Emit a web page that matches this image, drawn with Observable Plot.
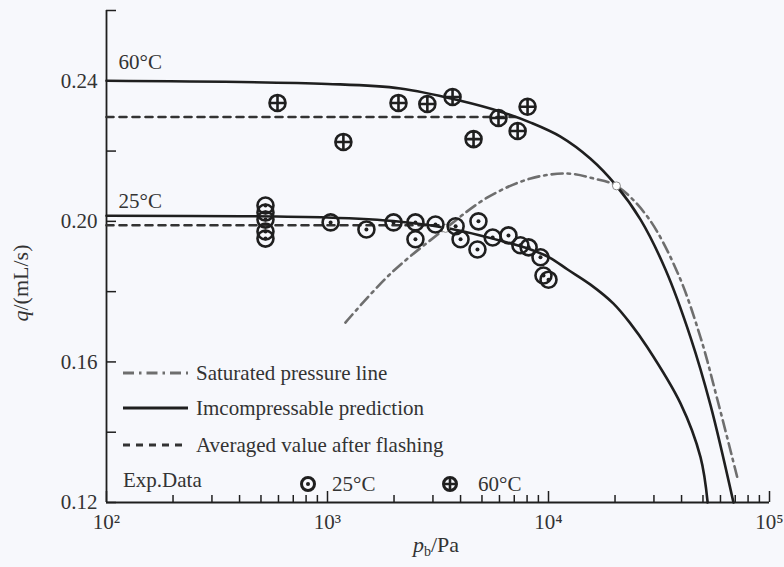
<!DOCTYPE html>
<html><head><meta charset="utf-8">
<script src="https://cdn.jsdelivr.net/npm/d3@7"></script>
<script src="https://cdn.jsdelivr.net/npm/@observablehq/plot@0.6"></script>
<style>
html,body{margin:0;padding:0;background:#f7f8fc;}
#wrap{position:relative;width:784px;height:567px;overflow:hidden;}
#legend{position:absolute;left:0;top:0;pointer-events:none;}
</style></head><body><div id="wrap"></div>
<script>
// ---- data ----
const xMajorTicks = [100, 1000, 10000, 100000];
const xTickLabels = ["10²", "10³", "10⁴", "10⁵"];
const xMinorTicks = [200, 300, 400, 500, 600, 700, 800, 900,
  2000, 3000, 4000, 5000, 6000, 7000, 8000, 9000,
  20000, 30000, 40000, 50000, 60000, 70000, 80000, 90000];
const yTicks = [0.12, 0.14, 0.16, 0.18, 0.20, 0.22, 0.24, 0.26];
const yLabelTicks = [0.12, 0.16, 0.20, 0.24];

const curveLabels = ["60°C", "25°C"];

// incompressible prediction, 60°C
const pSolid60 = [100, 1000, 2138, 4000, 6070, 8300, 11330, 15490, 20300, 26090, 33830, 43920, 54080, 68700];
const qSolid60 = [0.2400, 0.2391, 0.2378, 0.2343, 0.2312, 0.2281, 0.2241, 0.2178, 0.2101, 0.2005, 0.1863, 0.1670, 0.1477, 0.1200];
// incompressible prediction, 25°C
const pSolid25 = [100, 1000, 2138, 3606, 6070, 8300, 10110, 12200, 15490, 19680, 23500, 28050, 39560, 48730, 52500];
const qSolid25 = [0.2016, 0.2011, 0.1999, 0.1979, 0.1945, 0.1920, 0.1897, 0.1863, 0.1820, 0.1766, 0.1709, 0.1641, 0.1482, 0.1329, 0.1200];
// averaged value after flashing
const pDash60 = [100, 7100];
const qDash60 = [0.2297, 0.2297];
const pDash25 = [100, 3250];
const qDash25 = [0.1989, 0.1989];
// saturated pressure line
const pSat = [1205, 1928, 3421, 5297, 8300, 12190, 16000, 20300, 28050, 38370, 48730, 58210, 71650];
const qSat = [0.1712, 0.1851, 0.1980, 0.2068, 0.2122, 0.2136, 0.2122, 0.2101, 0.2013, 0.1854, 0.1670, 0.1491, 0.1269];
// intersection points
const pCross = [3421, 20300];
const qCross = [0.1980, 0.2101];
// experimental data, 25°C
const pExp25 = [524, 524, 524, 524, 524, 1033, 1500, 1990, 2500, 2500, 3080, 3800, 4000, 4820, 4770, 5590, 6590, 7460, 8130, 9200, 9490, 10000];
const qExp25 = [0.2045, 0.2025, 0.2005, 0.1971, 0.1951, 0.1997, 0.1977, 0.1997, 0.1997, 0.1949, 0.1991, 0.1986, 0.1949, 0.2000, 0.1920, 0.1954, 0.1960, 0.1932, 0.1926, 0.1898, 0.1846, 0.1834];
// experimental data, 60°C
const pExp60 = [594, 1180, 2095, 2830, 3680, 4580, 5940, 7250, 8040];
const qExp60 = [0.2337, 0.2226, 0.2337, 0.2334, 0.2354, 0.2234, 0.2294, 0.2257, 0.2326];

const legendItems = ["Saturated pressure line", "Imcompressable prediction", "Averaged value after flashing"];
const legendExp = ["Exp.Data", "25°C", "60°C"];

// ---- helpers ----
const zip = (ps, qs) => ps.map((p, i) => ({p, q: qs[i]}));
const font = "'Liberation Serif','Times New Roman',serif";
const ink = "#1f1f1f";
const textInk = "#333333";
const satInk = "#6e6e6e";

const crossCircle = {
  draw(ctx, size) {
    const r = Math.sqrt(size / Math.PI);
    ctx.moveTo(r, 0); ctx.arc(0, 0, r, 0, 2 * Math.PI);
    ctx.moveTo(-r, 0); ctx.lineTo(r, 0);
    ctx.moveTo(0, -r); ctx.lineTo(0, r);
  }
};

const exp25 = zip(pExp25, qExp25);
const exp60 = zip(pExp60, qExp60);

const plot = Plot.plot({
  width: 784, height: 567,
  marginLeft: 106, marginRight: 15, marginTop: 10, marginBottom: 65,
  style: {background: "#f7f8fc", fontFamily: font, fontSize: "21px", color: textInk, overflow: "visible"},
  x: {type: "log", domain: [100, 100000], label: null},
  y: {domain: [0.12, 0.26], label: null},
  marks: [
    Plot.ruleX([100], {stroke: ink, strokeWidth: 1.8}),
    Plot.ruleY([0.12], {stroke: ink, strokeWidth: 1.8}),
    Plot.axisX({ticks: xMajorTicks, tickSize: -11, tickFormat: () => "", stroke: ink, strokeWidth: 1.5, label: null}),
    Plot.axisX({ticks: xMinorTicks, tickSize: -7, tickFormat: () => "", stroke: ink, strokeWidth: 1.5, label: null}),
    Plot.axisX({ticks: xMajorTicks, tickSize: 0, tickPadding: 12, fill: textInk, tickFormat: d => xTickLabels[xMajorTicks.indexOf(d)], label: null}),
    Plot.axisY({ticks: yTicks, tickSize: -10, tickFormat: () => "", stroke: ink, strokeWidth: 1.5, label: null}),
    Plot.axisY({ticks: yLabelTicks, tickSize: 0, tickPadding: 9, fill: textInk, tickFormat: d => d.toFixed(2), label: null}),

    Plot.line(zip(pDash60, qDash60), {x: "p", y: "q", stroke: "#333", strokeWidth: 2.6, strokeDasharray: "7,6"}),
    Plot.line(zip(pDash25, qDash25), {x: "p", y: "q", stroke: "#333", strokeWidth: 2.6, strokeDasharray: "7,6"}),
    Plot.line(zip(pSat, qSat), {x: "p", y: "q", curve: "catmull-rom", stroke: satInk, strokeWidth: 2.6, strokeDasharray: "11,5,2.5,5"}),
    Plot.line(zip(pSolid60, qSolid60), {x: "p", y: "q", curve: "catmull-rom", stroke: ink, strokeWidth: 2.6}),
    Plot.line(zip(pSolid25, qSolid25), {x: "p", y: "q", curve: "catmull-rom", stroke: ink, strokeWidth: 2.6}),
    Plot.dot(zip(pCross, qCross), {x: "p", y: "q", r: 4, fill: "#ffffff", stroke: "#8a8a8a", strokeWidth: 1}),

    Plot.dot(exp25, {x: "p", y: "q", r: 8, fill: "none", stroke: ink, strokeWidth: 2.6}),
    Plot.dot(exp25, {x: "p", y: "q", r: 2, fill: ink, stroke: "none"}),
    Plot.dot(exp60, {x: "p", y: "q", r: 8, symbol: crossCircle, fill: "none", stroke: ink, strokeWidth: 2.6}),

    Plot.text([curveLabels[0]], {x: [100], y: [qSolid60[0]], text: d => d, textAnchor: "start", dx: 12, dy: -19, fill: textInk}),
    Plot.text([curveLabels[1]], {x: [100], y: [qSolid25[0]], text: d => d, textAnchor: "start", dx: 12, dy: -14, fill: textInk})
  ]
});

const wrap = document.getElementById("wrap");
wrap.appendChild(plot);

// axis titles
const svg = d3.select(plot);
const yt = svg.append("text")
  .attr("transform", "translate(28,283) rotate(-90)")
  .attr("text-anchor", "middle").attr("font-family", font).attr("font-size", 22).attr("fill", textInk);
yt.append("tspan").attr("font-style", "italic").text("q");
yt.append("tspan").text("/(mL/s)");
const xt = svg.append("text")
  .attr("x", 436).attr("y", 552)
  .attr("text-anchor", "middle").attr("font-family", font).attr("font-size", 22).attr("fill", textInk);
xt.append("tspan").attr("font-style", "italic").text("p");
xt.append("tspan").attr("font-size", 14).attr("dy", 4).text("b");
xt.append("tspan").attr("dy", -4).text("/Pa");

// legend overlay
const lg = d3.select(wrap).append("svg").attr("id", "legend").attr("width", 784).attr("height", 567)
  .attr("font-family", font).attr("font-size", 21).attr("fill", textInk);
const rowsY = [373, 408, 445];
const dashes = ["11,5,2.5,5", null, "7,6"];
const strokes = [satInk, ink, "#333"];
legendItems.forEach((t, i) => {
  lg.append("line").attr("x1", 123).attr("x2", 188).attr("y1", rowsY[i]).attr("y2", rowsY[i])
    .attr("stroke", strokes[i]).attr("stroke-width", i === 1 ? 3.2 : 2.8)
    .attr("stroke-dasharray", dashes[i]);
  lg.append("text").attr("x", 196).attr("y", rowsY[i]).attr("dy", "0.35em").text(t);
});
lg.append("text").attr("x", 123).attr("y", 480).attr("dy", "0.35em").text(legendExp[0]);
// 25°C symbol
lg.append("circle").attr("cx", 308).attr("cy", 484).attr("r", 6.5).attr("fill", "none").attr("stroke", ink).attr("stroke-width", 3);
lg.append("circle").attr("cx", 308).attr("cy", 484).attr("r", 2).attr("fill", ink);
lg.append("text").attr("x", 332).attr("y", 484).attr("dy", "0.35em").text(legendExp[1]);
// 60°C symbol
lg.append("circle").attr("cx", 450).attr("cy", 484).attr("r", 6.5).attr("fill", "none").attr("stroke", ink).attr("stroke-width", 3);
lg.append("path").attr("d", "M443.5,484H456.5M450,477.5V490.5").attr("stroke", ink).attr("stroke-width", 2.6);
lg.append("text").attr("x", 478).attr("y", 484).attr("dy", "0.35em").text(legendExp[2]);
</script></body></html>
